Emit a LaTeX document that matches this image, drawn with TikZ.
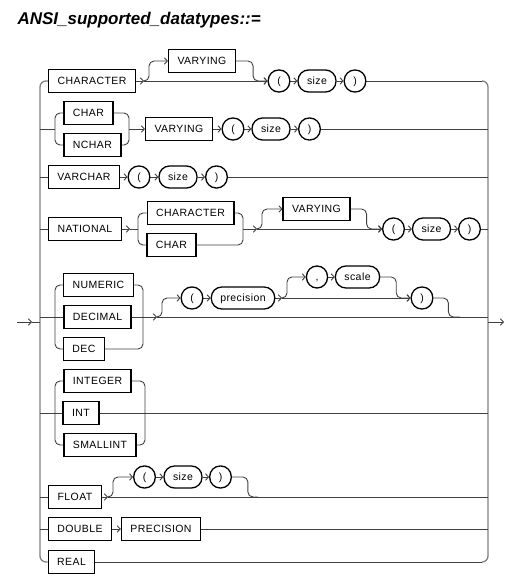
\documentclass[tikz,border=0pt]{standalone}
\usepackage{fontspec}
\setmainfont{Liberation Sans}
\newfontfamily\railfont[LetterSpace=4]{Liberation Sans}
\usetikzlibrary{arrows.meta,backgrounds}

\tikzset{
  kw/.style={draw, line width=1.3pt, fill=white, minimum height=23pt, inner xsep=9pt, inner ysep=0pt,
    text height=9.5pt, text depth=2pt, font=\railfont\fontsize{10.5}{12}\selectfont},
  term/.style={kw, rounded corners=10.5pt, minimum height=22pt, minimum width=21pt},
  rail/.style={draw=black!75, line width=0.9pt},
  spine/.style={draw=black!50, line width=1.3pt},
  >={Straight Barb[length=3pt,width=6.5pt]}
}

\begin{document}
\begin{tikzpicture}[x=1pt, y=-1pt]
\useasboundingbox (0,0) rectangle (522,583);
\node[anchor=base west, font=\bfseries\itshape\fontsize{17}{20}\selectfont] (title) at (14,25) {ANSI\_supported\_datatypes::=};

\foreach \n/\y in {1/81,2/129,3/177,4/229,5/317,6/413,7/497,8/529,9/562} {
  \coordinate (l\n) at (40,\y);
  \coordinate (r\n) at (488,\y);
}
\coordinate (in0) at (17,322);
\coordinate (in1) at (32,322);
\coordinate (in2) at (40,322);
\coordinate (out0) at (488,322);
\coordinate (out1) at (504,322);

% CHARACTER [VARYING] ( size )
\node[kw] (chr1) at (92,81) {CHARACTER};
\node[kw] (vary1) at (202,61) {VARYING};
\node[term] (lp1) at (279,81) {(};
\node[term] (size1) at (317,81) {size};
\node[term] (rp1) at (355,81) {)};
\coordinate (s1) at (144,81);

% CHAR | NCHAR VARYING ( size )
\node[kw] (char2) at (88.5,113) {CHAR};
\node[kw] (nchar2) at (92.5,145) {NCHAR};
\node[kw] (vary2) at (179,129) {VARYING};
\node[term] (lp2) at (233,129) {(};
\node[term] (size2) at (271,129) {size};
\node[term] (rp2) at (309.5,129) {)};
\coordinate (b2l) at (55,129);
\coordinate (b2r) at (129,129);

% VARCHAR ( size )
\node[kw] (varchar) at (84,177) {VARCHAR};
\node[term] (lp3) at (139,177) {(};
\node[term] (size3) at (178,177) {size};
\node[term] (rp3) at (216.5,177) {)};

% NATIONAL CHARACTER | CHAR [VARYING] ( size )
\node[kw] (national) at (85,229) {NATIONAL};
\node[kw] (chr4) at (190.5,213) {CHARACTER};
\node[kw] (char4) at (171.5,245) {CHAR};
\node[kw] (vary4) at (316.5,209) {VARYING};
\node[term] (lp4) at (393.5,229) {(};
\node[term] (size4) at (431.5,229) {size};
\node[term] (rp4) at (469.5,229) {)};
\coordinate (a4) at (130,229);
\coordinate (b4l) at (138,229);
\coordinate (b4r) at (243,229);
\coordinate (s4) at (257,229);

% NUMERIC | DECIMAL | DEC [( precision [, scale] )]
\node[kw] (numeric) at (98.5,285) {NUMERIC};
\node[kw] (decimal) at (97.5,317) {DECIMAL};
\node[kw] (dec) at (84,349) {DEC};
\node[term] (lp5) at (192,298) {(};
\node[term] (prec5) at (243,298) {precision};
\node[term] (comma5) at (317,277) {,};
\node[term] (scale5) at (357.5,277) {scale};
\node[term] (rp5) at (422,298) {)};
\coordinate (b5l) at (55,317);
\coordinate (b5r) at (143,317);
\coordinate (s5) at (157,317);
\coordinate (s5b) at (282,298);
\coordinate (j5) at (460,317);

% INTEGER | INT | SMALLINT
\node[kw] (integer) at (97.5,381) {INTEGER};
\node[kw] (int) at (81,413) {INT};
\node[kw] (smallint) at (100,445) {SMALLINT};
\coordinate (b6l) at (55,413);
\coordinate (b6r) at (145,413);

% FLOAT [( size )]
\node[kw] (float) at (75,497) {FLOAT};
\node[term] (lp7) at (144.5,477) {(};
\node[term] (size7) at (183,477) {size};
\node[term] (rp7) at (220.5,477) {)};
\coordinate (s7) at (108,497);
\coordinate (j7) at (258,497);

% DOUBLE PRECISION, REAL
\node[kw] (double) at (80,529) {DOUBLE};
\node[kw] (prec8) at (161,529) {PRECISION};
\node[kw] (real) at (71.5,562) {REAL};

\begin{scope}[on background layer]
% spine
\draw[spine, rounded corners=6pt] (chr1.west) -- (l1) -- (l9) -- (real.west);
\draw[spine, rounded corners=6pt] ([xshift=-6pt]r1) -- (r1) -- (r9) -- ([xshift=-6pt]r9);
\draw[rail, ->] (in0) -- (in1);
\draw[rail] (in1) -- (in2);
\draw[rail, ->] (out0) -- (out1);

\draw[rail, ->] (chr1) -- (s1);
\draw[rail, ->] (s1) -- (lp1);
\draw[rail, ->, rounded corners=5pt] (s1) -- ++(5,0) |- (vary1.west);
\draw[rail, ->, rounded corners=5pt] (vary1.east) -- ++(17,0) |- (lp1.west);
\draw[rail, ->] (lp1) -- (size1);
\draw[rail, ->] (size1) -- (rp1);
\draw[rail] (rp1) -- ([xshift=-6pt]r1);

\draw[rail] (l2) -- (b2l);
\draw[rail, rounded corners=5pt] (char2.west) -| (b2l) |- (nchar2.west);
\draw[rail, rounded corners=5pt] (char2.east) -| (b2r) |- (nchar2.east);
\draw[rail, ->] (b2r) -- (vary2);
\draw[rail, ->] (vary2) -- (lp2);
\draw[rail, ->] (lp2) -- (size2);
\draw[rail, ->] (size2) -- (rp2);
\draw[rail] (rp2) -- (r2);

\draw[rail] (l3) -- (varchar);
\draw[rail, ->] (varchar) -- (lp3);
\draw[rail, ->] (lp3) -- (size3);
\draw[rail, ->] (size3) -- (rp3);
\draw[rail] (rp3) -- (r3);

\draw[rail] (l4) -- (national);
\draw[rail, ->] (national) -- (a4);
\draw[rail] (a4) -- (b4l);
\draw[rail, rounded corners=5pt] (chr4.west) -| (b4l) |- (char4.west);
\draw[rail, rounded corners=5pt] (chr4.east) -| (b4r) |- (char4.east);
\draw[rail, ->] (b4r) -- (s4);
\draw[rail, ->] (s4) -- (lp4);
\draw[rail, ->, rounded corners=5pt] (s4) -- ++(5,0) |- (vary4.west);
\draw[rail, ->, rounded corners=5pt] (vary4.east) -- ++(16,0) |- (lp4.west);
\draw[rail, ->] (lp4) -- (size4);
\draw[rail, ->] (size4) -- (rp4);
\draw[rail] (rp4) -- (r4);

\draw[rail] (l5) -- (decimal);
\draw[rail, rounded corners=5pt] (numeric.west) -| (b5l) |- (dec.west);
\draw[rail, rounded corners=5pt] (numeric.east) -| (b5r) |- (dec.east);
\draw[rail, ->] (decimal) -- (s5);
\draw[rail] (s5) -- (r5);
\draw[rail, ->, rounded corners=5pt] (s5) -- ++(5,0) |- (lp5.west);
\draw[rail, ->] (lp5) -- (prec5);
\draw[rail, ->] (prec5) -- (s5b);
\draw[rail, ->] (s5b) -- (rp5);
\draw[rail, ->, rounded corners=5pt] (s5b) -- ++(5,0) |- (comma5.west);
\draw[rail, ->] (comma5) -- (scale5);
\draw[rail, ->, rounded corners=5pt] (scale5.east) -- ++(16,0) |- (rp5.west);
\draw[rail, rounded corners=5pt] (rp5.east) -- ++(15,0) |- (j5);

\draw[rail] (l6) -- (int);
\draw[rail] (int) -- (r6);
\draw[rail, rounded corners=5pt] (integer.west) -| (b6l) |- (smallint.west);
\draw[rail, rounded corners=5pt] (integer.east) -| (b6r) |- (smallint.east);

\draw[rail] (l7) -- (float);
\draw[rail, ->] (float) -- (s7);
\draw[rail] (s7) -- (r7);
\draw[rail, ->, rounded corners=5pt] (s7) -- ++(5,0) |- (lp7.west);
\draw[rail, ->] (lp7) -- (size7);
\draw[rail, ->] (size7) -- (rp7);
\draw[rail, rounded corners=5pt] (rp7.east) -- ++(16,0) |- (j7);

\draw[rail] (l8) -- (double);
\draw[rail, ->] (double) -- (prec8);
\draw[rail] (prec8) -- (r8);
\draw[rail] (real) -- ([xshift=-6pt]r9);
\end{scope}
\end{tikzpicture}
\end{document}
